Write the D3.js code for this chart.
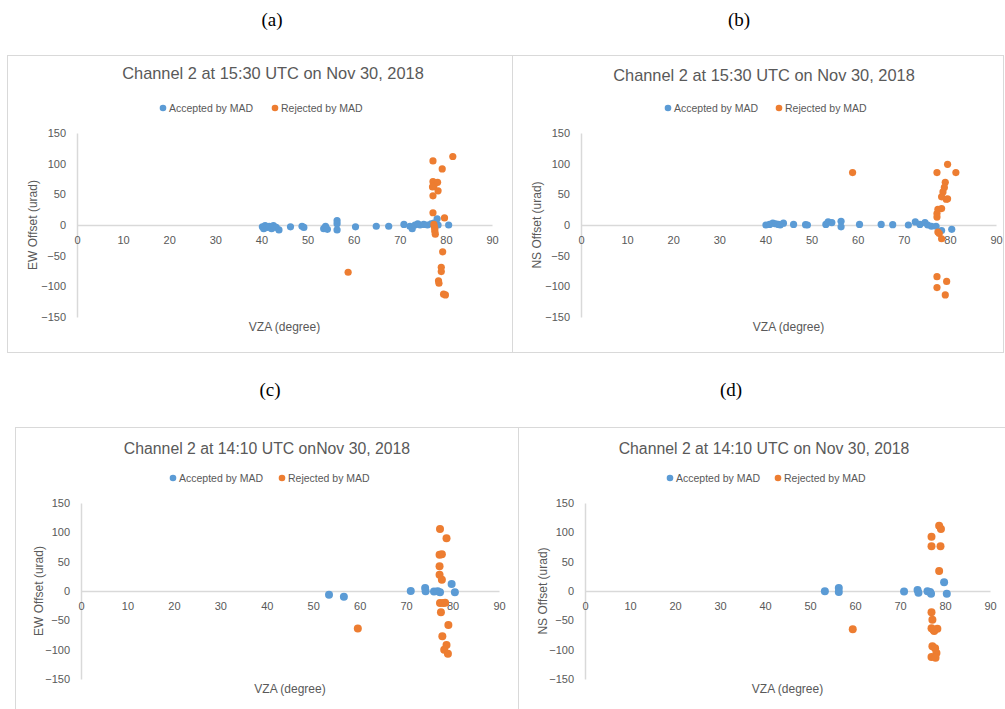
<!DOCTYPE html>
<html lang="en">
<head>
  <meta charset="UTF-8">
  <title>Channel 2 MAD offsets</title>
  <script src="https://d3js.org/d3.v7.min.js"></script>
  <style>
    body, html {
      margin: 0;
      padding: 0;
      background: #fff;
      overflow: hidden;
    }
    svg {
      display: block;
      font-family: "Liberation Sans", Arial, sans-serif;
    }
    .tick text { fill: #595959; }
    .panel-label {
      font-family: "Liberation Serif", "Times New Roman", serif;
      font-size: 19px;
      fill: #000;
    }
  </style>
</head>
<body>
  <svg width="1005" height="709"></svg>
  <script>
    // x tick values / y tick values shared by all four charts
    const xTicks = [0, 10, 20, 30, 40, 50, 60, 70, 80, 90];
    const yTicks = [-150, -100, -50, 0, 50, 100, 150];
    const seriesNames = ['Accepted by MAD', 'Rejected by MAD'];

    // (a) EW offset, 15:30 UTC  [VZA, offset]
    const ewA_accepted = [
      [40.2, -3], [40.5, -6], [40.8, -1], [41.3, -4], [41.7, -2], [42.2, -6], [42.6, -1],
      [43.2, -4], [43.8, -8], [46.3, -3], [48.8, -2], [49.2, -4], [53.5, -6], [53.9, -2],
      [54.3, -7], [56.4, 7], [56.4, 2], [56.4, -8], [60.4, -3], [64.9, -2], [67.6, -2],
      [70.9, 1], [72.2, -2], [72.7, -6], [73.3, 0], [73.9, 2], [74.4, 0], [75.2, 1],
      [76.0, 0], [76.8, 2], [77.4, 3], [78.1, 10], [78.3, 0], [80.6, 0]
    ];
    const ewA_rejected = [
      [58.8, -77], [77.2, 104.5], [81.5, 111.7], [79.2, 91.4], [77.2, 70.6], [78.2, 69.5],
      [77.4, 63.5], [77.1, 62], [78.3, 55.8], [77.2, 47.6], [77.2, 20], [79.7, 11.5],
      [77.4, 1], [77.5, -3], [77.6, -6], [77.6, -10], [77.7, -15], [79.3, -43.8],
      [79.0, -69], [79.0, -76], [78.4, -91], [78.5, -95], [79.5, -112.8], [79.9, -114]
    ];

    // (b) NS offset, 15:30 UTC
    const nsB_accepted = [
      [40.1, 0], [40.9, 1], [41.6, 3], [42.2, 2], [42.8, 1], [43.2, 0], [43.9, 3],
      [46.1, 1], [48.7, 0.5], [49.1, 0], [53.1, 1], [53.6, 5], [54.4, 4], [56.4, 6],
      [56.4, -3], [60.4, 1], [65.1, 1], [67.6, 0.5], [71.0, 0], [72.5, 5], [73.5, 1],
      [74.6, 4], [75.2, 0], [76.0, -2], [77.0, -2], [78.2, -9], [80.4, -7]
    ];
    const nsB_rejected = [
      [58.9, 85.4], [77.2, 85.4], [79.5, 99], [81.3, 85.4], [79.0, 69.5], [78.8, 61.3],
      [78.5, 54], [78.2, 46], [79.2, 42], [79.5, 42.7], [78.2, 26.8], [77.4, 25.7],
      [77.2, 18.6], [77.2, 13], [77.4, -11.5], [77.7, -14], [78.2, -22.4], [77.2, -84.3],
      [79.3, -92], [77.2, -102], [79.0, -114]
    ];

    // (c) EW offset, 14:10 UTC
    const ewC_accepted = [
      [53.4, -6.3], [56.6, -9.7], [71.0, 0], [74.1, 5], [74.2, -0.5], [76.0, -1],
      [76.8, -0.5], [77.3, -2], [79.8, 12], [80.5, -2]
    ];
    const ewC_rejected = [
      [59.6, -64], [77.3, 105.7], [78.7, 89.8], [77.2, 62], [77.7, 62.5], [77.2, 42],
      [77.2, 27.8], [77.7, 19.3], [77.3, -20.5], [78.0, -20.5], [78.4, -19.9],
      [77.5, -36.4], [79.1, -58], [77.8, -77.3], [78.7, -92], [78.2, -100], [79.0, -106.8]
    ];

    // (d) NS offset, 14:10 UTC
    const nsD_accepted = [
      [53.3, -0.5], [56.4, 5], [56.4, -1.7], [70.9, -1], [73.9, 1.7], [74.1, -2.8],
      [76.1, -0.5], [76.7, -1.7], [76.9, -4.5], [79.8, 14.8], [80.4, -4.5]
    ];
    const nsD_rejected = [
      [59.5, -65.3], [78.7, 111.4], [79.1, 105.7], [77.0, 92.6], [77.0, 76.1], [79.0, 76.1],
      [78.7, 34], [77.0, -36.4], [77.2, -48.9], [77.0, -63.6], [77.6, -68], [78.3, -64.2],
      [77.4, -66], [77.2, -94.3], [77.8, -97.7], [78.1, -105.7], [77.0, -112.5], [77.9, -113.6]
    ];

    const colors = ['#5B9BD5', '#ED7D31'];
    const svg = d3.select('svg');

    function drawPanel(cfg) {
      const g = svg.append('g');

      // chart frame
      g.append('rect')
        .attr('x', cfg.box[0]).attr('y', cfg.box[1])
        .attr('width', cfg.box[2]).attr('height', cfg.box[3])
        .attr('fill', 'none').attr('stroke', '#D9D9D9').attr('stroke-width', 1);

      // panel letter above
      svg.append('text').attr('class', 'panel-label')
        .attr('x', cfg.letterPos[0]).attr('y', cfg.letterPos[1])
        .attr('text-anchor', 'middle').text(cfg.letter);

      const x = d3.scaleLinear().domain([0, 90]).range([cfg.plot[0], cfg.plot[1]]);
      const y = d3.scaleLinear().domain([-150, 150]).range([cfg.plot[3], cfg.plot[2]]);

      // title
      g.append('text')
        .attr('x', cfg.titleX).attr('y', cfg.titleY)
        .attr('text-anchor', 'middle')
        .attr('font-size', cfg.titleSize).attr('fill', '#595959')
        .text(cfg.title);

      // legend
      seriesNames.forEach((name, i) => {
        const lx = cfg.legendX[i];
        g.append('circle').attr('cx', lx).attr('cy', cfg.legendY).attr('r', 3.3).attr('fill', colors[i]);
        g.append('text').attr('x', lx + 6).attr('y', cfg.legendY + 3.8)
          .attr('font-size', 10.5).attr('fill', '#595959').text(name);
      });

      // y axis (vertical line at x = 0)
      const yAxis = g.append('g')
        .attr('transform', `translate(${x(0)},0)`)
        .call(d3.axisLeft(y).tickValues(yTicks).tickSize(0).tickPadding(11));
      yAxis.select('.domain').attr('stroke', '#D9D9D9').attr('stroke-width', 1.5);
      yAxis.selectAll('text').attr('font-size', 11).attr('font-family', 'Liberation Sans, Arial, sans-serif');

      // x axis crossing at y = 0
      const xAxis = g.append('g')
        .attr('transform', `translate(0,${y(0)})`)
        .call(d3.axisBottom(x).tickValues(xTicks).tickSize(0).tickPadding(11));
      xAxis.select('.domain').attr('stroke', '#D9D9D9').attr('stroke-width', 1.5);
      xAxis.selectAll('text').attr('font-size', 11).attr('font-family', 'Liberation Sans, Arial, sans-serif');

      // axis titles
      g.append('text')
        .attr('x', (x(0) + x(90)) / 2).attr('y', cfg.xTitleY)
        .attr('text-anchor', 'middle').attr('font-size', 12).attr('fill', '#595959')
        .text('VZA (degree)');
      g.append('text')
        .attr('transform', `translate(${cfg.yTitleX},${y(0)}) rotate(-90)`)
        .attr('text-anchor', 'middle').attr('font-size', 12).attr('fill', '#595959')
        .text(cfg.yTitle);

      // points
      [cfg.accepted, cfg.rejected].forEach((data, i) => {
        g.append('g').selectAll('circle')
          .data(data)
          .join('circle')
          .attr('cx', d => x(d[0]))
          .attr('cy', d => y(d[1]))
          .attr('r', cfg.r)
          .attr('fill', colors[i]);
      });
    }

    drawPanel({
      letter: '(a)', letterPos: [272, 26],
      box: [7.5, 55.5, 505, 297],
      plot: [77, 492, 133, 317],
      title: 'Channel 2 at 15:30 UTC on Nov 30, 2018', titleX: 273, titleY: 79, titleSize: 16.4,
      legendX: [163, 275], legendY: 108,
      xTitleY: 331, yTitleX: 37, yTitle: 'EW Offset (urad)',
      accepted: ewA_accepted, rejected: ewA_rejected, r: 3.6
    });
    drawPanel({
      letter: '(b)', letterPos: [739, 26],
      box: [512.5, 55.5, 491, 297],
      plot: [581, 996, 133, 317],
      title: 'Channel 2 at 15:30 UTC on Nov 30, 2018', titleX: 764, titleY: 81, titleSize: 16.4,
      legendX: [668, 779], legendY: 108,
      xTitleY: 331, yTitleX: 541, yTitle: 'NS Offset (urad)',
      accepted: nsB_accepted, rejected: nsB_rejected, r: 3.6
    });
    drawPanel({
      letter: '(c)', letterPos: [270, 396],
      box: [15.5, 427.5, 503, 300],
      plot: [81, 499, 503, 679],
      title: 'Channel 2 at 14:10 UTC onNov 30, 2018', titleX: 267, titleY: 454, titleSize: 15.8,
      legendX: [173, 282], legendY: 478,
      xTitleY: 693, yTitleX: 43, yTitle: 'EW Offset (urad)',
      accepted: ewC_accepted, rejected: ewC_rejected, r: 4
    });
    drawPanel({
      letter: '(d)', letterPos: [731, 396],
      box: [518.5, 427.5, 500, 300],
      plot: [585, 990, 503, 679],
      title: 'Channel 2 at 14:10 UTC on Nov 30, 2018', titleX: 764, titleY: 454, titleSize: 15.8,
      legendX: [670, 778], legendY: 478,
      xTitleY: 693, yTitleX: 547, yTitle: 'NS Offset (urad)',
      accepted: nsD_accepted, rejected: nsD_rejected, r: 4
    });
  </script>
</body>
</html>
